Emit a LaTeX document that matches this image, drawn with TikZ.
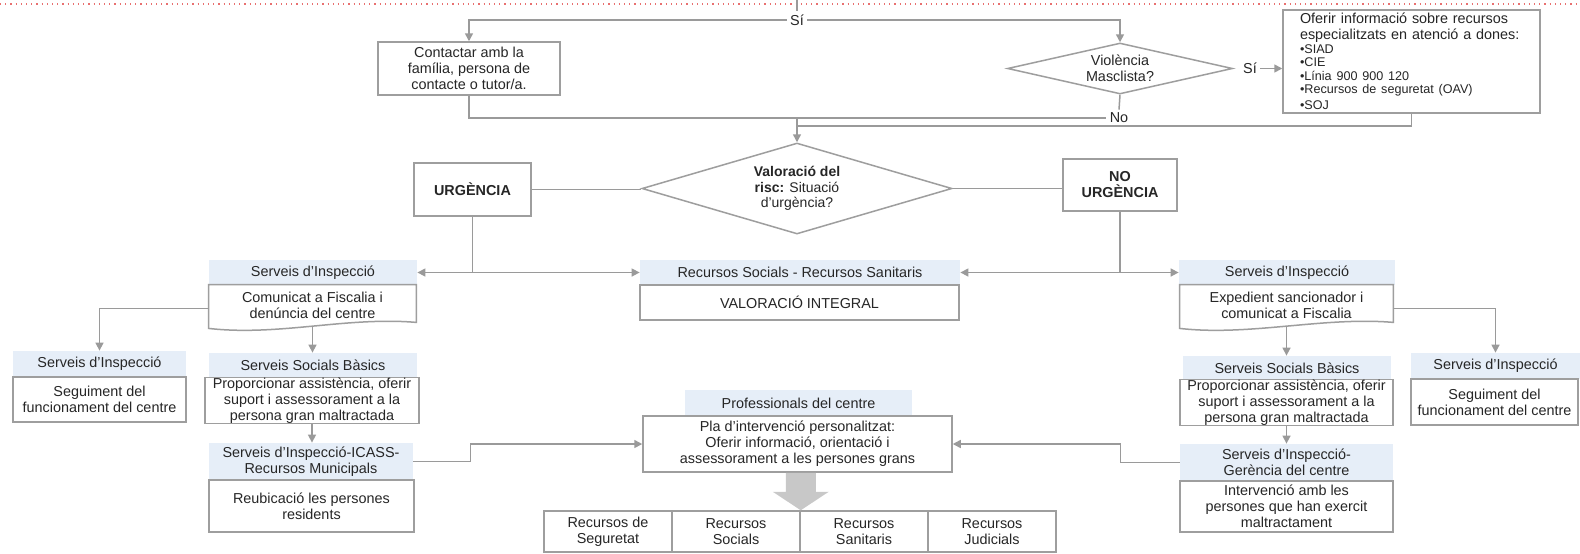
\documentclass[tikz,border=0pt]{standalone}
\usepackage{fontspec}
\setmainfont{Liberation Sans}
\usetikzlibrary{arrows.meta,shapes.geometric,calc}
\definecolor{lc}{HTML}{9A9A9A}
\definecolor{bc}{HTML}{9E9E9E}
\definecolor{hb}{HTML}{E6EEF8}
\definecolor{tx}{HTML}{262626}
\definecolor{ar}{HTML}{C8C8C8}
\definecolor{rd}{HTML}{E87070}
\begin{document}
\begin{tikzpicture}[x=0.5pt,y=-0.5pt,
 base/.style={font=\fontsize{7.2}{8}\selectfont, text=tx, align=center, inner sep=0pt},
 box/.style={base, draw=bc, line width=0.75pt, fill=white},
 hdr/.style={base, fill=hb},
 doc/.style={base},
 lbl/.style={base, fill=white, inner sep=1.5pt},
 conn/.style={draw=lc, line width=0.75pt},
 arr/.style={conn, -{Triangle[length=4pt,width=4pt]}},
 dia/.style={base, diamond, draw=bc, line width=0.75pt, fill=white},
 outl/.style={draw=bc, line width=0.75pt},
 boldf/.style={font=\bfseries\fontsize{7.2}{8}\selectfont}]
\useasboundingbox (0,0) rectangle (1580,553);
\fill[white] (0,0) rectangle (1580,553);
\draw[rd, dotted, line width=0.6pt] (0,4) -- (1580,4);

% top part
\node[lbl] (si) at (797,20) {Sí};
\node[box, minimum width=91pt, minimum height=26.5pt] (contact) at (469,68.5) {Contactar amb la\\família, persona de\\contacte o tutor/a.};
\node[dia, aspect=4.4, minimum width=112.5pt, minimum height=25.5pt] (viol) at (1120,68.5) {Violència\\Masclista?};
\node[lbl] (si2) at (1250,68.5) {Sí};
\node[box, minimum width=128.5pt, minimum height=51.5pt, text width=111.5pt, inner xsep=8.5pt, align=left] (ofer) at (1411.5,61.5)
 {Oferir informació sobre recursos\\especialitzats en atenció a dones:\par
  \fontsize{6.3}{6.8}\selectfont •SIAD\\•CIE\\•Línia 900 900 120\\•Recursos de seguretat (OAV)\\•SOJ};
\node[lbl] (no) at (1119,118) {No};
\coordinate (mrg) at (797,118);
\coordinate (mrg2) at (797,126);

\node[dia, aspect=3.4, minimum width=155pt, minimum height=45.5pt, font=\fontsize{7}{7.6}\selectfont] (valor) at (797,188.5) {\textbf{Valoració del}\\\textbf{risc:} Situació\\d'urgència?};
\node[box, boldf, minimum width=58.5pt, minimum height=26.5pt] (urg) at (472.5,189.5) {URGÈNCIA};
\node[box, boldf, minimum width=57pt, minimum height=26pt] (nourg) at (1120,185) {NO\\URGÈNCIA};

% row 1
\node[hdr, minimum width=104pt, minimum height=12.5pt] (sdAh) at (313,272.5) {Serveis d'Inspecció};
\node[doc, minimum width=103.5pt, minimum height=20.5pt] (sdAb) at (312.5,305.5) {Comunicat a Fiscalia i\\denúncia del centre};
\node[hdr, minimum width=160pt, minimum height=12.5pt] (rsh) at (800,272.5) {Recursos Socials - Recursos Sanitaris};
\node[box, minimum width=159.5pt, minimum height=17.5pt] (rsb) at (799.5,302.5) {VALORACIÓ INTEGRAL};
\node[hdr, minimum width=108pt, minimum height=12.5pt] (sdBh) at (1287,272.5) {Serveis d'Inspecció};
\node[doc, minimum width=106.5pt, minimum height=20.5pt] (sdBb) at (1286.5,305.5) {Expedient sancionador i\\comunicat a Fiscalia};

% row 2 left
\node[hdr, minimum width=86.5pt, minimum height=13pt] (sdAAh) at (99.5,364) {Serveis d'Inspecció};
\node[box, minimum width=86.5pt, minimum height=22.5pt] (sdAAb) at (99.5,399.5) {Seguiment del\\funcionament del centre};
\node[hdr, minimum width=104pt, minimum height=12.5pt] (ssbAh) at (313,365.5) {Serveis Socials Bàsics};
\node[box, minimum width=107pt, minimum height=22.5pt] (ssbAb) at (312,400.5) {Proporcionar assistència, oferir\\suport i assessorament a la\\persona gran maltractada};
\node[hdr, minimum width=102pt, minimum height=18.5pt] (icah) at (311,461.5) {Serveis d'Inspecció-ICASS-\\Recursos Municipals};
\node[box, minimum width=102.5pt, minimum height=26pt] (icab) at (311.5,506) {Reubicació les persones\\residents};

% centre
\node[hdr, minimum width=113.5pt, minimum height=13pt] (plah) at (798.5,403) {Professionals del centre};
\node[box, minimum width=154.5pt, minimum height=28pt] (pla) at (797.5,444) {Pla d'intervenció personalitzat:\\Oferir informació, orientació i\\assessorament a les persones grans};
\node[box, minimum width=64pt, minimum height=20.5pt] (rseg) at (608,531.5) {Recursos de\\Seguretat};
\node[box, minimum width=64pt, minimum height=20.5pt] (rsoc) at (736,531.5) {Recursos\\Socials};
\node[box, minimum width=64pt, minimum height=20.5pt] (rsan) at (864,531.5) {Recursos\\Sanitaris};
\node[box, minimum width=64pt, minimum height=20.5pt] (rjud) at (992,531.5) {Recursos\\Judicials};
\coordinate (tip) at (rsoc.north east);

% row 2 right
\node[hdr, minimum width=84.5pt, minimum height=13pt] (sdBBh) at (1495.5,366) {Serveis d'Inspecció};
\node[box, minimum width=83.5pt, minimum height=23pt] (sdBBb) at (1494.5,402) {Seguiment del\\funcionament del centre};
\node[hdr, minimum width=104pt, minimum height=12pt] (ssbBh) at (1287,368) {Serveis Socials Bàsics};
\node[box, minimum width=106.5pt, minimum height=22.5pt] (ssbBb) at (1286.5,402.5) {Proporcionar assistència, oferir\\suport i assessorament a la\\persona gran maltractada};
\node[hdr, minimum width=106.5pt, minimum height=18.5pt] (gerh) at (1286.5,462.5) {Serveis d'Inspecció-\\Gerència del centre};
\node[box, minimum width=106.5pt, minimum height=25.5pt] (gerb) at (1286.5,506.5) {Intervenció amb les\\persones que han exercit\\maltractament};

% document shapes
\draw[outl] (sdAb.north west) -- (sdAb.north east) -- ([yshift=2pt]sdAb.south east) .. controls +(-35pt,3pt) and +(35pt,-4pt) .. ([yshift=-1pt]sdAb.south west) -- cycle;
\draw[outl] (sdBb.north west) -- (sdBb.north east) -- ([yshift=2pt]sdBb.south east) .. controls +(-35pt,3pt) and +(35pt,-4pt) .. ([yshift=-1pt]sdBb.south west) -- cycle;

% connectors
\draw[conn] (797,0) -- (si.north);
\draw[arr] (si.west) -| (contact.north);
\draw[arr] (si.east) -| (viol.north);
\draw[arr] (si2.east) -- (si2.east -| ofer.west);
\draw[conn] (contact.south) |- (no.west);
\draw[conn] (viol.south) -- (no.north);
\draw[conn] (ofer.south) |- (mrg2);
\draw[arr] (mrg) -- (valor.north);
\draw[conn] (urg.east) -- (urg.east -| valor.west);
\draw[conn] (valor.east) -- (valor.east -| nourg.west);
\draw[conn] (urg.south) -- (urg.south |- sdAh.east);
\draw[arr] (urg.south |- sdAh.east) -- (sdAh.east);
\draw[arr] (urg.south |- rsh.west) -- (rsh.west);
\draw[conn] (nourg.south) -- (nourg.south |- sdBh.west);
\draw[arr] (nourg.south |- sdBh.west) -- (sdBh.west);
\draw[arr] (nourg.south |- rsh.east) -- (rsh.east);
\draw[arr] ([yshift=-1.5pt]sdAb.west) -| (sdAAh.north);
\draw[arr] (sdAb.south) -- (sdAb.south |- ssbAh.north);
\draw[arr] (ssbAb.south) -- (ssbAb.south |- icah.north);
\draw[arr] (icah.east) -- ++(28.5pt,0) |- (pla.west);
\draw[arr] ([yshift=-1.5pt]sdBb.east) -| (sdBBh.north);
\draw[arr] (sdBb.south) -- (sdBb.south |- ssbBh.north);
\draw[arr] (ssbBb.south) -- (ssbBb.south |- gerh.north);
\draw[arr] (gerh.west) -- ++(-29.5pt,0) |- (pla.east);

% big arrow
\fill[ar] ($(tip|-pla.south)+(-15,0)$) -- ($(tip|-pla.south)+(15,0)$) -- ($(tip|-pla.south)+(15,19)$) -- ($(tip|-pla.south)+(28,19)$) -- (tip) -- ($(tip|-pla.south)+(-28,19)$) -- ($(tip|-pla.south)+(-15,19)$) -- cycle;
\end{tikzpicture}
\end{document}
